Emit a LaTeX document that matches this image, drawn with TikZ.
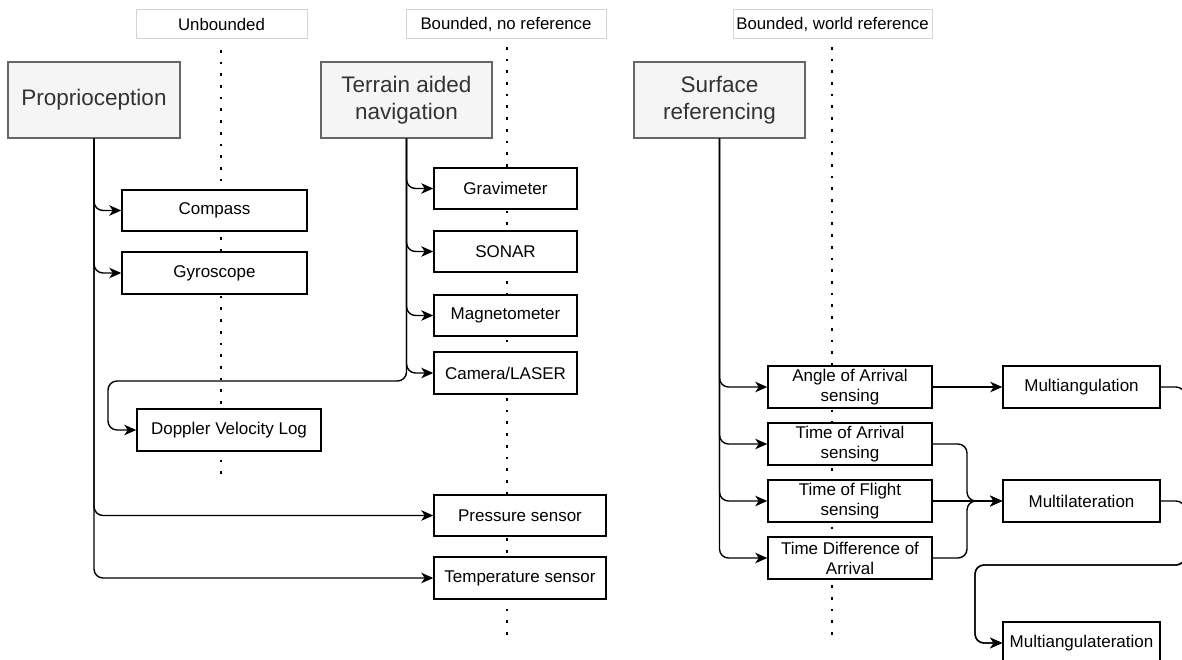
\documentclass[tikz,border=0pt]{standalone}
\usepackage{fontspec}
\setmainfont{Liberation Sans}
\usetikzlibrary{arrows.meta}
\definecolor{grayfill}{HTML}{F5F5F5}
\definecolor{grayline}{HTML}{666666}
\definecolor{graytext}{HTML}{333333}
\definecolor{hdrline}{HTML}{D4D4D4}

\tikzset{
  sensor/.style={draw=black, fill=white, line width=1.5pt, inner sep=0pt, align=center,
    font=\fontsize{17}{20}\selectfont},
  category/.style={draw=grayline, fill=grayfill, text=graytext, line width=1.5pt, inner sep=0pt,
    align=center, font=\fontsize{22.5}{26.5}\selectfont},
  header/.style={draw=hdrline, fill=white, line width=1pt, inner sep=0pt,
    font=\fontsize{16.8}{20}\selectfont},
  conn/.style={line width=1.4pt, rounded corners=9pt, -{Stealth[length=12pt,width=10.5pt,inset=3.5pt]}},
  divider/.style={line width=2.7pt, dash pattern=on 2.7pt off 9pt},
}

% \placebox{name}{style}{x1}{y1}{x2}{y2}{text}
\newcommand\placebox[7]{%
  \node[#2, minimum width={(#5)-(#3)}, minimum height={(#6)-(#4)}]
    (#1) at ({((#3)+(#5))/2},{((#4)+(#6))/2}) {#7};}

\begin{document}
\begin{tikzpicture}[x=1pt, y=-1pt]
\useasboundingbox (0,0) rectangle (1182,660);
\clip (0,0) rectangle (1182,660);
\fill[white] (0,0) rectangle (1182,660);

% column headers
\placebox{hU}{header}{136}{10}{307}{39}{Unbounded}
\placebox{hB}{header}{406}{10}{606}{39}{Bounded, no reference}
\placebox{hW}{header}{733}{10}{932}{39}{Bounded, world reference}

% dotted dividers below the headers
\draw[divider] (221,50) -- (221,482);
\draw[divider] (507,47) -- (507,636);
\draw[divider] (832,47) -- (832,636);

% categories
\placebox{prop}{category}{8}{62}{180}{138}{Proprioception}
\placebox{terr}{category}{321}{62}{492}{138}{Terrain aided\\navigation}
\placebox{surf}{category}{634}{62}{805}{138}{Surface\\referencing}

% proprioceptive sensors
\placebox{comp}{sensor}{122}{190}{307}{231}{Compass}
\placebox{gyro}{sensor}{122}{252}{307}{294}{Gyroscope}
\placebox{dvl}{sensor}{137}{409}{321}{451}{Doppler Velocity Log}
\placebox{pres}{sensor}{434}{495}{606}{536}{Pressure sensor}
\placebox{temp}{sensor}{434}{557}{606}{599}{Temperature sensor}

% terrain aided sensors
\placebox{grav}{sensor}{434}{168}{577}{209}{Gravimeter}
\placebox{sonar}{sensor}{434}{231}{577}{272}{SONAR}
\placebox{magn}{sensor}{434}{295}{577}{336}{Magnetometer}
\placebox{cam}{sensor}{434}{352}{577}{394}{Camera/LASER}

% surface referencing sensors
\placebox{aoa}{sensor}{768}{366}{932}{408}{Angle of Arrival\\sensing}
\placebox{toa}{sensor}{768}{423}{932}{465}{Time of Arrival\\sensing}
\placebox{tof}{sensor}{768}{480}{932}{522}{Time of Flight\\sensing}
\placebox{tdoa}{sensor}{768}{537}{932}{579}{Time Difference of\\Arrival}

% positioning methods
\placebox{mang}{sensor}{1003}{366}{1160}{408}{Multiangulation}
\placebox{mlat}{sensor}{1003}{480}{1160}{522}{Multilateration}
\placebox{mal}{sensor}{1003}{622}{1160}{664}{Multiangulateration}

% routing points
\coordinate (dvlbend) at (108,381);
\coordinate (join) at (967,501);
\coordinate (rightout) at (1185,565);
\coordinate (malbend) at (975,565);

% proprioception branches
\draw[conn] (prop.south) |- (comp.west);
\draw[conn] (prop.south) |- (gyro.west);
\draw[conn] (prop.south) |- (pres.west);
\draw[conn] (prop.south) |- (temp.west);

% terrain aided branches
\draw[conn] (terr.south) |- (grav.west);
\draw[conn] (terr.south) |- (sonar.west);
\draw[conn] (terr.south) |- (magn.west);
\draw[conn] (terr.south) |- (cam.west);
\draw[conn] (terr.south) |- (dvlbend) |- (dvl.west);

% surface referencing branches
\draw[conn] (surf.south) |- (aoa.west);
\draw[conn] (surf.south) |- (toa.west);
\draw[conn] (surf.south) |- (tof.west);
\draw[conn] (surf.south) |- (tdoa.west);

% sensing to methods
\draw[conn] (aoa.east) -- (mang.west);
\draw[conn] (toa.east) -| (join) -- (mlat.west);
\draw[conn] (tof.east) -- (mlat.west);
\draw[conn] (tdoa.east) -| (join) -- (mlat.west);

% combination of both methods
\draw[conn] (mang.east) -| (rightout) -- (malbend) |- (mal.west);
\draw[conn] (mlat.east) -| (rightout) -- (malbend) |- (mal.west);
\end{tikzpicture}
\end{document}
